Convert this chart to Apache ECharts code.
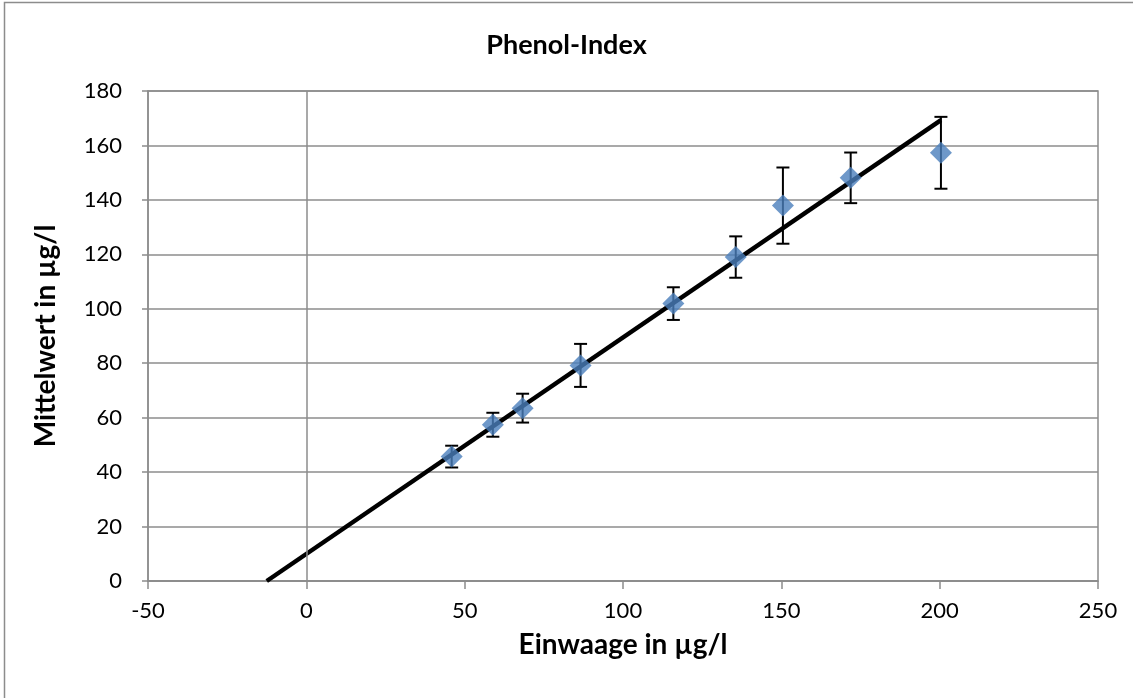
<!DOCTYPE html>
<html>
<head>
<meta charset="utf-8">
<script src="https://cdn.jsdelivr.net/npm/echarts@6/dist/echarts.min.js"></script>
<style>
  html, body { margin: 0; padding: 0; background: #ffffff; }
  #chart { width: 1133px; height: 698px; }
</style>
</head>
<body>
<div id="chart"></div>
<script>
// Einwaage (x) and measured mean (y) with standard deviation
const einwaage   = [45.9, 58.9, 68.3, 86.6, 115.9, 135.6, 150.5, 171.9, 200.4];
const mittelwert = [45.7, 57.4, 63.5, 79.2, 101.9, 119.0, 137.9, 148.1, 157.3];
const abweichung = [4.0, 4.4, 5.3, 7.9, 6.0, 7.6, 14.0, 9.3, 13.2];

// Linear trend line, extended back to the x axis
const trendX = [-12.5, 200.4];
const trendY = [0, 169.3];

const xTicks = [-50, 0, 50, 100, 150, 200, 250];
const yTicks = [0, 20, 40, 60, 80, 100, 120, 140, 160, 180];

const FONT = 'Lato, "Open Sans", sans-serif';
const GRAY = '#8c8c8c';

const points = einwaage.map((x, i) => [x, mittelwert[i]]);
const errors = einwaage.map((x, i) => [x, mittelwert[i] - abweichung[i], mittelwert[i] + abweichung[i]]);
const trend = trendX.map((x, i) => [x, trendY[i]]);

const chart = echarts.init(document.getElementById('chart'), null, { renderer: 'canvas' });

chart.setOption({
  animation: false,
  backgroundColor: '#ffffff',
  graphic: [{
    type: 'rect',
    shape: { x: 4.5, y: 2.5, width: 1160, height: 720 },
    style: { fill: 'none', stroke: GRAY, lineWidth: 1.5 },
    silent: true
  }],
  title: {
    text: 'Phenol-Index',
    left: 'center',
    top: 27,
    textStyle: { fontFamily: FONT, fontWeight: 'bold', fontSize: 27, color: '#000' }
  },
  grid: { left: 148, right: 35, top: 91, bottom: 117, show: true, borderColor: GRAY, borderWidth: 1.5, containLabel: false },
  xAxis: {
    type: 'value',
    min: xTicks[0], max: xTicks[xTicks.length - 1], interval: 50,
    name: 'Einwaage in µg/l',
    nameLocation: 'middle',
    nameGap: 50,
    nameTextStyle: { fontFamily: FONT, fontWeight: 'bold', fontSize: 28, color: '#000' },
    axisLine: { show: true, onZero: false, lineStyle: { color: GRAY, width: 1.5 } },
    axisTick: { show: true, length: 8, lineStyle: { color: GRAY, width: 1.5 } },
    axisLabel: { fontFamily: FONT, fontSize: 22, color: '#000', margin: 19 },
    splitLine: { show: false }
  },
  yAxis: {
    type: 'value',
    min: yTicks[0], max: yTicks[yTicks.length - 1], interval: 20,
    name: 'Mittelwert in µg/l',
    nameLocation: 'middle',
    nameGap: 88,
    nameTextStyle: { fontFamily: FONT, fontWeight: 'bold', fontSize: 28, color: '#000' },
    axisLine: { show: true, onZero: false, lineStyle: { color: GRAY, width: 1.5 } },
    axisTick: { show: true, length: 6, lineStyle: { color: GRAY, width: 1.5 } },
    axisLabel: { fontFamily: FONT, fontSize: 22, color: '#000', margin: 26 },
    splitLine: { show: true, lineStyle: { color: GRAY, width: 1.5 } }
  },
  series: [
    {
      // vertical reference line at x = 0
      type: 'line',
      data: [],
      silent: true,
      markLine: {
        symbol: 'none',
        label: { show: false },
        lineStyle: { color: GRAY, width: 1.5, type: 'solid' },
        data: [{ xAxis: 0 }]
      },
      z: 1
    },
    {
      type: 'custom',
      name: 'Standardabweichung',
      data: errors,
      z: 3,
      renderItem: function (params, api) {
        const x = api.value(0);
        const lo = api.coord([x, api.value(1)]);
        const hi = api.coord([x, api.value(2)]);
        const w = 6.5;
        const style = { stroke: '#000', lineWidth: 2, fill: 'none' };
        return {
          type: 'group',
          children: [
            { type: 'line', shape: { x1: lo[0], y1: lo[1], x2: hi[0], y2: hi[1] }, style },
            { type: 'line', shape: { x1: lo[0] - w, y1: lo[1], x2: lo[0] + w, y2: lo[1] }, style },
            { type: 'line', shape: { x1: hi[0] - w, y1: hi[1], x2: hi[0] + w, y2: hi[1] }, style }
          ]
        };
      }
    },
    {
      type: 'line',
      name: 'Trend',
      data: trend,
      showSymbol: false,
      symbol: 'none',
      lineStyle: { color: '#000', width: 4.5 },
      z: 4
    },
    {
      type: 'scatter',
      name: 'Mittelwert',
      data: points,
      symbol: 'diamond',
      symbolSize: [22, 22],
      itemStyle: { color: '#4a7ebb' },
      z: 5
    }
  ]
});
</script>
</body>
</html>
